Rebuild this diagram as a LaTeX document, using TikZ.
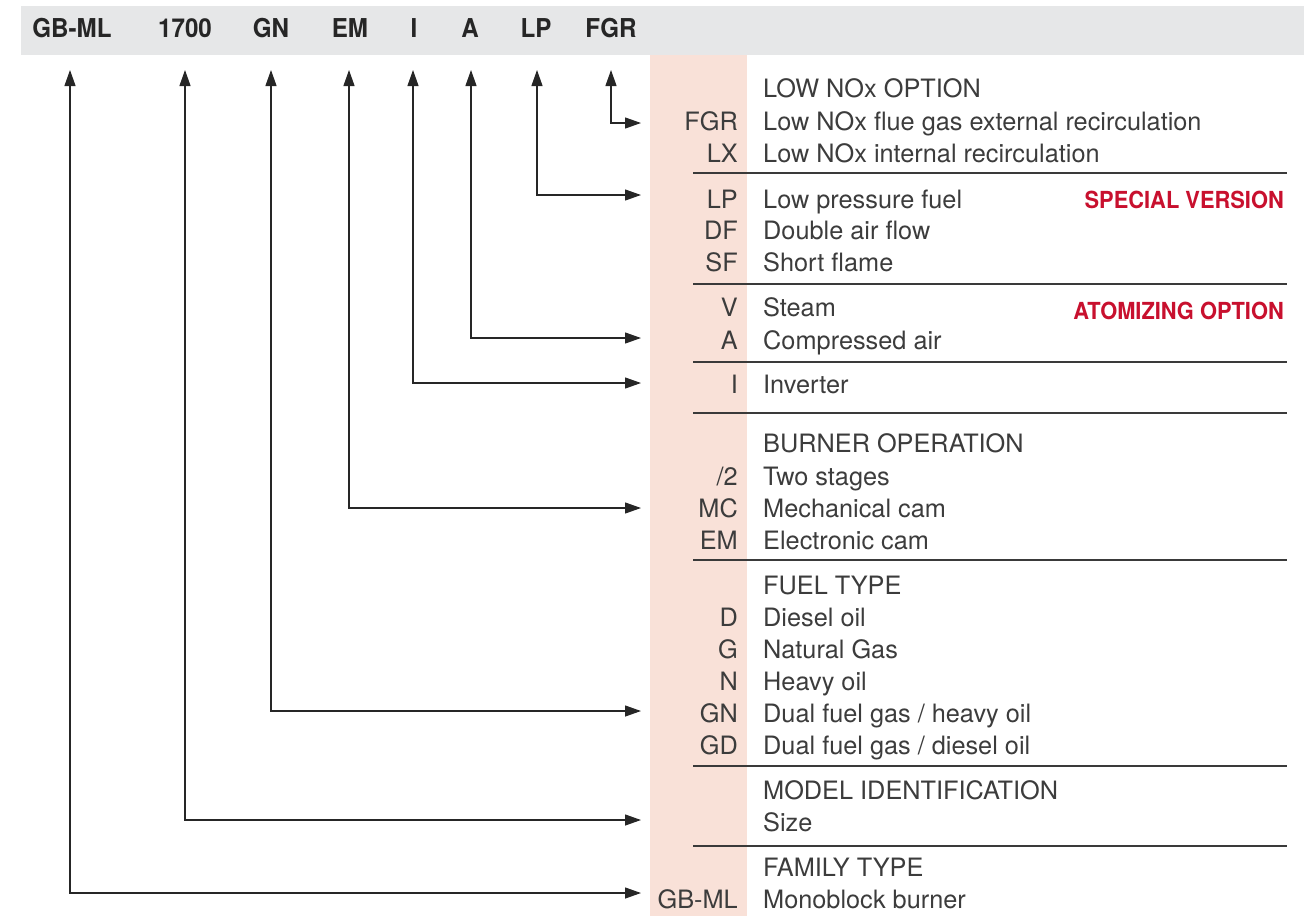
\documentclass[tikz,border=0pt]{standalone}
\usepackage{fontspec}
\setmainfont{TeX Gyre Heros}
\newfontfamily\cndfont[FakeStretch=0.93]{TeX Gyre Heros}
\usetikzlibrary{arrows.meta}
\definecolor{band}{HTML}{E6E7E8}
\definecolor{peach}{HTML}{F9E1D8}
\definecolor{txt}{HTML}{3C3C3C}
\definecolor{redlab}{HTML}{C8102E}
\definecolor{rule}{HTML}{3A3A3A}
\begin{document}
\begin{tikzpicture}[x=1pt,y=-1pt,
  hdr/.style={font=\cndfont\fontsize{26}{30}\selectfont\bfseries, text=black!85, inner sep=0pt, anchor=base},
  code/.style={font=\fontsize{25.3}{30}\selectfont, text=txt, inner sep=0pt, anchor=base east},
  desc/.style={font=\fontsize{25.3}{30}\selectfont, text=txt, inner sep=0pt, anchor=base west},
  redl/.style={font=\cndfont\fontsize{23.5}{28}\selectfont\bfseries, text=redlab, inner sep=0pt, anchor=base east},
  sep/.style={draw=rule, line width=1.4pt},
  arr/.style={draw=black!85, line width=1.2pt,
    {Triangle[length=16pt,width=11pt]}-{Triangle[length=16pt,width=11pt]}}]
\useasboundingbox (0,0) rectangle (1312,916);
\fill[band] (21,6) rectangle (1304,55);
\fill[peach] (650,55) rectangle (747,916);

% header
\node[hdr] (h1) at (72,37) {GB-ML};
\node[hdr] (h2) at (185,37) {1700};
\node[hdr] (h3) at (271,37) {GN};
\node[hdr] (h4) at (350,37) {EM};
\node[hdr] (h5) at (414,37) {I};
\node[hdr] (h6) at (470,37) {A};
\node[hdr] (h7) at (536,37) {LP};
\node[hdr] (h8) at (611,37) {FGR};

% separators
\foreach \yy in {173,284,362,413,560,766,846}
  \draw[sep] (693,\yy) -- (1287,\yy);

% rows
\node[desc] (t1) at (763,97) {LOW NOx OPTION};
\node[code] (c2) at (738,130) {FGR}; \node[desc] (d2) at (763,130) {Low NOx flue gas external recirculation};
\node[code] (c3) at (738,162) {LX};  \node[desc] (d3) at (763,162) {Low NOx internal recirculation};
\node[code] (c4) at (738,208) {LP};  \node[desc] (d4) at (763,208) {Low pressure fuel};
\node[code] (c5) at (738,239) {DF};  \node[desc] (d5) at (763,239) {Double air flow};
\node[code] (c6) at (738,271) {SF};  \node[desc] (d6) at (763,271) {Short flame};
\node[code] (c7) at (738,316) {V};   \node[desc] (d7) at (763,316) {Steam};
\node[code] (c8) at (738,349) {A};   \node[desc] (d8) at (763,349) {Compressed air};
\node[code] (c9) at (738,393) {I};   \node[desc] (d9) at (763,393) {Inverter};
\node[desc] (t10) at (763,452) {BURNER OPERATION};
\node[code] (c11) at (738,485) {/2}; \node[desc] (d11) at (763,485) {Two stages};
\node[code] (c12) at (738,517) {MC}; \node[desc] (d12) at (763,517) {Mechanical cam};
\node[code] (c13) at (738,549) {EM}; \node[desc] (d13) at (763,549) {Electronic cam};
\node[desc] (t14) at (763,594) {FUEL TYPE};
\node[code] (c15) at (738,626) {D};  \node[desc] (d15) at (763,626) {Diesel oil};
\node[code] (c16) at (738,658) {G};  \node[desc] (d16) at (763,658) {Natural Gas};
\node[code] (c17) at (738,690) {N};  \node[desc] (d17) at (763,690) {Heavy oil};
\node[code] (c18) at (738,722) {GN}; \node[desc] (d18) at (763,722) {Dual fuel gas / heavy oil};
\node[code] (c19) at (738,754) {GD}; \node[desc] (d19) at (763,754) {Dual fuel gas / diesel oil};
\node[desc] (t20) at (763,799) {MODEL IDENTIFICATION};
\node[desc] (d21) at (763,831) {Size};
\node[desc] (t22) at (763,876) {FAMILY TYPE};
\node[code] (c23) at (738,908) {GB-ML}; \node[desc] (d23) at (763,908) {Monoblock burner};

\node[redl] (r1) at (1284,208) {SPECIAL VERSION};
\node[redl] (r2) at (1284,319) {ATOMIZING OPTION};

% arrow end points
\coordinate (u1) at (70,70);  \coordinate (e1) at (641,893);
\coordinate (u2) at (185,70); \coordinate (e2) at (641,820);
\coordinate (u3) at (271,70); \coordinate (e3) at (641,711);
\coordinate (u4) at (349,70); \coordinate (e4) at (641,508);
\coordinate (u5) at (413,70); \coordinate (e5) at (641,383);
\coordinate (u6) at (471,70); \coordinate (e6) at (641,338);
\coordinate (u7) at (537,70); \coordinate (e7) at (641,195);
\coordinate (u8) at (611,70); \coordinate (e8) at (641,123);
\foreach \i in {1,...,8}
  \draw[arr] (u\i) |- (e\i);
\end{tikzpicture}
\end{document}
